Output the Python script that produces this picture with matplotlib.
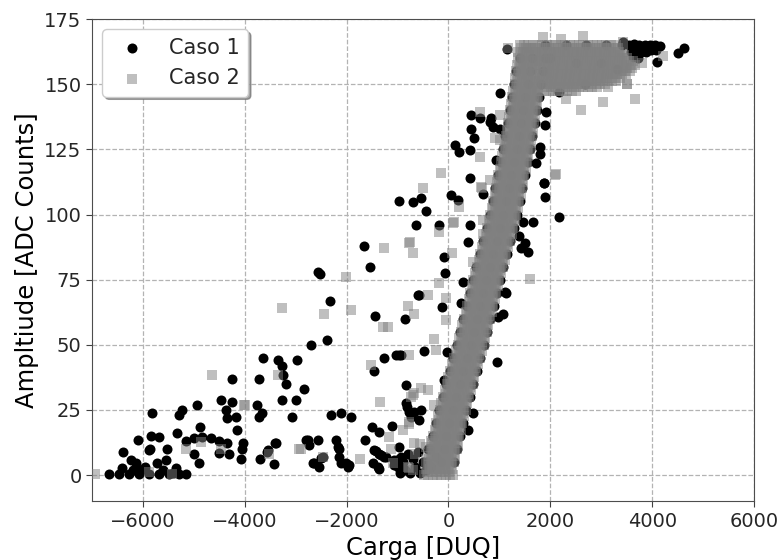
import matplotlib
matplotlib.use("Agg")
import matplotlib.pyplot as plt

plt.rcParams.update({
    "font.family": "DejaVu Sans",
    "xtick.labelsize": 14,
    "ytick.labelsize": 14,
    "axes.labelsize": 17.5,
    "text.color": "0.15",
    "xtick.color": "0.25",
    "ytick.color": "0.25",
    "xtick.labelcolor": "0.15",
    "ytick.labelcolor": "0.15",
})

X_TICKS = [-6000, -4000, -2000, 0, 2000, 4000, 6000]
Y_TICKS = [0, 25, 50, 75, 100, 125, 150, 175]

# ---- Caso 1 (black circles) ----
caso1_sparse = [
    (-1652, 88), (-1534, 80), (-2571, 78), (-2520, 77), (-2321, 67), (-2386, 52),
    (-2701, 50), (-1436, 61), (-846, 60), (-603, 69), (-1259, 45), (-1029, 46),
    (-964, 46), (-1456, 40), (-832, 34.5), (-3633, 45), (-3338, 44), (-3259, 42),
    (-2964, 44), (-4242, 37), (-3718, 37), (-3240, 38.4), (-3193, 35), (-2846, 33),
    (-3259, 29), (-2996, 29), (-3075, 22.4), (-2308, 23), (-2111, 24), (-1914, 22.4),
    (-4472, 29), (-4242, 28), (-3751, 27), (-3653, 24), (-3718, 22.4), (-4373, 25),
    (-4340, 22), (-4176, 22.4), (-4144, 17.5), (-4943, 27), (-5226, 25), (-5291, 23),
    (-5828, 24), (-4878, 18.5), (-6092, 13.4), (-5848, 15), (-5684, 14.7), (-5862, 10),
    (-5521, 10.2), (-5324, 16), (-5160, 13.2), (-4996, 14.1), (-4833, 14.7), (-4668, 14.1),
    (-4996, 8.3), (-4898, 4.5), (-4504, 13.2), (-4341, 12.2), (-4504, 8.6), (-4308, 8.3),
    (-4026, 12.2), (-4046, 10.2), (-4078, 6), (-3698, 6), (-3535, 9.6), (-3403, 12.4),
    (-3423, 4.1), (-2799, 13.4), (-2571, 13.4), (-2734, 11.5), (-2669, 4.5), (-2537, 3),
    (-2472, 7), (-2209, 13.4), (-2177, 10.9), (-2144, 7), (-2013, 4.5), (-1980, 3),
    (-1633, 13.4), (-1501, 18.5), (-1371, 16.6), (-1456, 9.6), (-1357, 8.3), (-1259, 7),
    (-1489, 4.5), (-1390, 3), (-1107, 18.8), (-964, 10.9), (-931, 7), (-1062, 5.8),
    (-997, 3), (-832, 27.5), (-767, 24.3),
    (-6668, 0.3), (-6471, 0.3), (-6406, 2.6), (-6386, 9), (-6242, 5.8), (-6143, 4.5),
    (-6045, 2), (-6275, 0.3), (-6078, 0.3), (-5881, 0.3), (-5684, 0.3), (-5488, 0.3),
    (-5291, 0.3), (-5160, 0.3), (-5718, 4.5), (-5553, 5.8), (-5356, 2.6), (-5881, 9.6),
    (-6200, 2), (-5950, 3), (-5600, 2), (-5400, 1),
    (-472, 47.7), (-813, 26.2), (-669, 24.3), (-537, 24.9), (-734, 22.4), (-570, 21.1),
    (-1423, 9.3), (-1324, 7.7), (-1226, 6.8), (-800, 8.3), (-964, 6), (-1357, 2.5),
    (-1062, 3.8), (-898, 2.6), (-3390, 12.2), (-3554, 9), (-2767, 13.4), (-2157, 10.2),
    (-2636, 4.5), (-2504, 6.4), (-1947, 3.8), (-2111, 4.5),
    (-570, 69), (-124, 64.4), (249, 66.1), (-26, 47.3), (-930, 46), (950, 43.5),
    (1068, 62), (1134, 69.7), (-79, 36.5), (478, 23.7), (380, 17.3), (970, 60.7),
    (433, 138), (610, 137), (806, 135.6), (872, 133.7), (1003, 133), (446, 133),
    (511, 129.2), (138, 126.6), (216, 124.1), (426, 124.7), (938, 121.1), (426, 114.1),
    (1003, 146.5), (2170, 147.1), (1922, 139.4), (1888, 134.3), (1790, 126), (1725, 119.6),
    (1869, 112.2), (1888, 106.8), (2170, 98.9), (1462, 97.2), (1659, 97.2), (53, 107.4),
    (183, 105.5), (-439, 101.4), (-636, 95.9), (-177, 95.9), (426, 95.9), (-964, 105),
    (-702, 104.9), (-537, 106.2), (380, 89.5), (1875, 111.9), (1383, 91.7), (1430, 87),
    (-79, 83.8), (-59, 77.4), (282, 74.2), (1101, 70.3), (675, 107.7), (1790, 123.4),
    (1495, 88.9), (1560, 85.7), (840, 136.9),
    (-950, 1), (-850, 2), (-750, 1), (-650, 3), (-550, 1), (-450, 2), (-900, 5),
    (-700, 6), (-600, 9), (-500, 5), (-400, 10), (-350, 3), (-300, 15), (-250, 7),
]

# points along the edges and middle of the dense rising band
caso1_band = [
    (-420, 5), (-155, 5), (110, 5), (-360, 10), (-95, 10), (170, 10),
    (-305, 15), (-40, 15), (225, 15), (-245, 20), (20, 20), (285, 20),
    (-185, 25), (80, 25), (345, 25), (-115, 30), (150, 30), (415, 30),
    (-45, 35), (220, 35), (485, 35), (25, 40), (290, 40), (555, 40),
    (95, 45), (360, 45), (625, 45), (170, 50), (435, 50), (700, 50),
    (235, 55), (500, 55), (765, 55), (295, 60), (560, 60), (825, 60),
    (360, 65), (625, 65), (890, 65), (420, 70), (685, 70), (950, 70),
    (480, 75), (745, 75), (1010, 75), (550, 80), (815, 80), (1080, 80),
    (615, 85), (880, 85), (1145, 85), (685, 90), (950, 90), (1215, 90),
    (750, 95), (1015, 95), (1280, 95), (815, 100), (1080, 100), (1345, 100),
    (870, 105), (1135, 105), (1400, 105), (920, 110), (1185, 110), (1450, 110),
    (970, 115), (1235, 115), (1500, 115), (1025, 120), (1290, 120), (1555, 120),
    (1075, 125), (1340, 125), (1605, 125), (1115, 130), (1380, 130), (1645, 130),
    (1160, 135), (1425, 135), (1690, 135), (1200, 140), (1465, 140), (1730, 140),
    (1245, 145), (1510, 145), (1775, 145), (1290, 150), (1555, 150), (1820, 150),
    (1335, 155), (1600, 155), (1865, 155), (1400, 160), (1640, 160), (1900, 160),
]

# saturated pulses along the top
caso1_top = [
    (3550, 165), (3650, 165.5), (3750, 165), (3850, 165), (3950, 165), (4050, 165),
    (4150, 164.5), (3580, 162.5), (3680, 162), (3780, 162.5), (3880, 162.5),
    (3980, 163), (4080, 163), (3620, 160.5), (3720, 160), (4090, 158.5),
    (4500, 162), (4620, 164), (3420, 166),
    (1140, 163.5), (1900, 165), (2300, 165), (2700, 165), (3100, 165), (3400, 165),
    (2000, 160), (2500, 158), (3000, 158), (3300, 156), (2675, 150),
]

# ---- Caso 2 (grey squares) ----
caso2_sparse = [
    (-1259, 87), (-767, 89), (-702, 85.3), (-2013, 76), (-3259, 64.2), (-2439, 62),
    (-1914, 63.3), (-800, 64.9), (-669, 62), (-1292, 56.9), (-1194, 56.9), (-780, 46),
    (-1521, 42.2), (-4649, 38.4), (-3338, 38.4), (-3993, 27), (-1344, 28), (-702, 30.7),
    (-898, 17.3), (-767, 20.5), (-1160, 14.7), (-1737, 6), (-2931, 10), (-2472, 7),
    (-3521, 8.3), (-4472, 10.2), (-4865, 12.8), (-5160, 10.2), (-5881, 1.3), (-5423, 0.3),
    (-6943, 0.3), (-1095, 4.5), (-767, 2.6), (-669, 12.2),
    (-144, 116), (2118, 115.5), (-492, 110.3), (216, 103), (118, 97.2), (-177, 93.4),
    (-753, 89.5), (643, 110.6), (675, 97.9), (1167, 163.7), (2610, 140), (3035, 143.3),
    (3659, 144.3), (2315, 144.3), (3515, 150), (1855, 168), (2217, 167.3), (2642, 168.6),
    (2085, 115.1), (85, 96.8), (72, 85.3), (478, 81.9), (1593, 75.1), (905, 129.2),
    (1003, 128.5), (610, 122.1), (662, 110.3), (806, 113.2), (675, 92.7), (610, 139.4),
    (1003, 138.1),
    (-407, 69), (-45, 67.8), (-45, 59.5), (-177, 73.6), (-275, 52.4), (-537, 33.3),
    (-407, 32.6), (-669, 31.4), (-734, 30), (-275, 26.9), (-439, 10.9), (-308, 9.6),
    (-242, 48), (-2897, 9.9), (-1127, 10.2), (-767, 19.8), (-4013, 26.9),
    (3800, 158), (4210, 161), (2675, 150), (3130, 149), (3500, 150), (3420, 166),
    (-800, 3), (-650, 8), (-550, 12), (-450, 6), (-350, 13), (-700, 2),
]

# rising band: amplitude level -> charges seen at that level
caso2_band = {
    0: [-480, -395, -310, -225, -140, -55, 30, 80],
    1.25: [-412, -327, -242, -157, -72, 13],
    2.5: [-440, -355, -270, -185, -100, -15, 70],
    3.75: [-382, -297, -212, -127, -42, 43],
    5: [-410, -325, -240, -155, -70, 15, 100],
    6.25: [-352, -267, -182, -97, -12, 73],
    7.5: [-380, -295, -210, -125, -40, 45, 130],
    8.75: [-322, -237, -152, -67, 18, 103],
    10: [-350, -265, -180, -95, -10, 75, 160],
    11.25: [-292, -207, -122, -37, 48, 133],
    12.5: [-320, -235, -150, -65, 20, 105, 190],
    13.75: [-264, -179, -94, -9, 76, 161],
    15: [-295, -210, -125, -40, 45, 130, 215],
    16.25: [-237, -152, -67, 18, 103, 188],
    17.5: [-265, -180, -95, -10, 75, 160, 245],
    18.75: [-207, -122, -37, 48, 133, 218],
    20: [-235, -150, -65, 20, 105, 190, 275],
    21.25: [-177, -92, -7, 78, 163, 248],
    22.5: [-205, -120, -35, 50, 135, 220, 305],
    23.75: [-147, -62, 23, 108, 193, 278],
    25: [-175, -90, -5, 80, 165, 250, 335],
    26.25: [-114, -29, 56, 141, 226, 311],
    27.5: [-140, -55, 30, 115, 200, 285, 370],
    28.75: [-80, 5, 90, 175, 260, 345],
    30: [-105, -20, 65, 150, 235, 320, 405],
    31.25: [-44, 41, 126, 211, 296, 381],
    32.5: [-70, 15, 100, 185, 270, 355, 440],
    33.75: [-10, 75, 160, 245, 330, 415],
    35: [-35, 50, 135, 220, 305, 390, 475],
    36.25: [26, 111, 196, 281, 366, 451],
    37.5: [0, 85, 170, 255, 340, 425, 510],
    38.75: [60, 145, 230, 315, 400, 485],
    40: [35, 120, 205, 290, 375, 460, 545],
    41.25: [96, 181, 266, 351, 436, 521],
    42.5: [70, 155, 240, 325, 410, 495, 580],
    43.75: [130, 215, 300, 385, 470, 555],
    45: [105, 190, 275, 360, 445, 530, 615],
    46.25: [166, 251, 336, 421, 506, 591],
    47.5: [140, 225, 310, 395, 480, 565, 650],
    48.75: [203, 288, 373, 458, 543, 628],
    50: [180, 265, 350, 435, 520, 605, 690],
    51.25: [238, 323, 408, 493, 578, 663],
    52.5: [210, 295, 380, 465, 550, 635, 720],
    53.75: [270, 355, 440, 525, 610, 695],
    55: [245, 330, 415, 500, 585, 670, 755],
    56.25: [303, 388, 473, 558, 643, 728],
    57.5: [275, 360, 445, 530, 615, 700, 785],
    58.75: [333, 418, 503, 588, 673, 758],
    60: [305, 390, 475, 560, 645, 730, 815],
    61.25: [363, 448, 533, 618, 703, 788],
    62.5: [335, 420, 505, 590, 675, 760, 845],
    63.75: [396, 481, 566, 651, 736, 821],
    65: [370, 455, 540, 625, 710, 795, 880],
    66.25: [428, 513, 598, 683, 768, 853],
    67.5: [400, 485, 570, 655, 740, 825, 910],
    68.75: [458, 543, 628, 713, 798, 883],
    70: [430, 515, 600, 685, 770, 855, 940],
    71.25: [488, 573, 658, 743, 828, 913],
    72.5: [460, 545, 630, 715, 800, 885, 970],
    73.75: [518, 603, 688, 773, 858, 943],
    75: [490, 575, 660, 745, 830, 915, 1000],
    76.25: [550, 635, 720, 805, 890, 975],
    77.5: [525, 610, 695, 780, 865, 950, 1035],
    78.75: [586, 671, 756, 841, 926, 1011],
    80: [560, 645, 730, 815, 900, 985, 1070],
    81.25: [620, 705, 790, 875, 960, 1045],
    82.5: [595, 680, 765, 850, 935, 1020, 1105],
    83.75: [653, 738, 823, 908, 993, 1078],
    85: [625, 710, 795, 880, 965, 1050, 1135],
    86.25: [686, 771, 856, 941, 1026, 1111],
    87.5: [660, 745, 830, 915, 1000, 1085, 1170],
    88.75: [720, 805, 890, 975, 1060, 1145],
    90: [695, 780, 865, 950, 1035, 1120, 1205],
    91.25: [756, 841, 926, 1011, 1096, 1181],
    92.5: [730, 815, 900, 985, 1070, 1155, 1240],
    93.75: [788, 873, 958, 1043, 1128, 1213],
    95: [760, 845, 930, 1015, 1100, 1185, 1270],
    96.25: [820, 905, 990, 1075, 1160, 1245],
    97.5: [795, 880, 965, 1050, 1135, 1220, 1305],
    98.75: [853, 938, 1023, 1108, 1193, 1278],
    100: [825, 910, 995, 1080, 1165, 1250, 1335],
    101.25: [880, 965, 1050, 1135, 1220, 1305],
    102.5: [850, 935, 1020, 1105, 1190, 1275, 1360],
    103.75: [908, 993, 1078, 1163, 1248, 1333],
    105: [880, 965, 1050, 1135, 1220, 1305, 1390],
    106.25: [936, 1021, 1106, 1191, 1276, 1361],
    107.5: [905, 990, 1075, 1160, 1245, 1330, 1415],
    108.75: [960, 1045, 1130, 1215, 1300, 1385],
    110: [930, 1015, 1100, 1185, 1270, 1355, 1440],
    111.25: [986, 1071, 1156, 1241, 1326, 1411],
    112.5: [955, 1040, 1125, 1210, 1295, 1380, 1465],
    113.75: [1010, 1095, 1180, 1265, 1350, 1435],
    115: [980, 1065, 1150, 1235, 1320, 1405, 1490],
    116.25: [1036, 1121, 1206, 1291, 1376, 1461],
    117.5: [1005, 1090, 1175, 1260, 1345, 1430, 1515],
    118.75: [1063, 1148, 1233, 1318, 1403, 1488],
    120: [1035, 1120, 1205, 1290, 1375, 1460, 1545],
    121.25: [1090, 1175, 1260, 1345, 1430, 1515],
    122.5: [1060, 1145, 1230, 1315, 1400, 1485, 1570],
    123.75: [1116, 1201, 1286, 1371, 1456, 1541],
    125: [1085, 1170, 1255, 1340, 1425, 1510, 1595],
    126.25: [1138, 1223, 1308, 1393, 1478, 1563],
    127.5: [1105, 1190, 1275, 1360, 1445, 1530, 1615],
    128.75: [1158, 1243, 1328, 1413, 1498, 1583],
    130: [1125, 1210, 1295, 1380, 1465, 1550, 1635],
    131.25: [1178, 1263, 1348, 1433, 1518, 1603],
    132.5: [1145, 1230, 1315, 1400, 1485, 1570, 1655],
    133.75: [1200, 1285, 1370, 1455, 1540, 1625],
    135: [1170, 1255, 1340, 1425, 1510, 1595, 1680],
    136.25: [1223, 1308, 1393, 1478, 1563, 1648],
    137.5: [1190, 1275, 1360, 1445, 1530, 1615, 1700],
    138.75: [1243, 1328, 1413, 1498, 1583, 1668],
    140: [1210, 1295, 1380, 1465, 1550, 1635, 1720],
    141.25: [1266, 1351, 1436, 1521, 1606, 1691],
    142.5: [1235, 1320, 1405, 1490, 1575, 1660, 1745],
    143.75: [1288, 1373, 1458, 1543, 1628, 1713],
    145: [1255, 1340, 1425, 1510, 1595, 1680, 1765],
    146.25: [1308, 1393, 1478, 1563, 1648, 1733],
    147.5: [1275, 1360, 1445, 1530, 1615, 1700, 1785],
    148.75: [1330, 1415, 1500, 1585, 1670, 1755],
    150: [1300, 1385, 1470, 1555, 1640, 1725, 1810],
    151.25: [1350, 1435, 1520, 1605, 1690, 1775],
    152.5: [1315, 1400, 1485, 1570, 1655, 1740],
    153.75: [1366, 1451, 1536, 1621, 1706, 1791],
    155: [1330, 1415, 1500, 1585, 1670],
    156.25: [1380, 1465, 1550, 1635, 1720],
    157.5: [1345, 1430, 1515, 1600],
    158.75: [1396, 1481, 1566, 1651],
    160: [1360, 1445, 1530, 1615],
    161.25: [1410, 1495, 1580, 1665],
    162.5: [1375, 1460, 1545],
    163.75: [1430, 1515, 1600],
    165: [1400, 1485],
}

# saturation plateau: amplitude level -> charges
caso2_plateau = {
    165: [1570, 1660, 1750, 1840, 1930, 2020, 2110, 2200, 2290, 2380, 2470, 2560,
          2650, 2740, 2830, 2920, 3010, 3100, 3190, 3280],
    163.75: [1615, 1705, 1795, 1885, 1975, 2065, 2155, 2245, 2335, 2425, 2515, 2605,
             2695, 2785, 2875, 2965, 3055, 3145, 3235, 3325],
    162.5: [1720, 1810, 1900, 1990, 2080, 2170, 2260, 2350, 2440, 2530, 2620, 2710,
            2800, 2890, 2980, 3070, 3160, 3250, 3340, 3430],
    161.25: [1745, 1835, 1925, 2015, 2105, 2195, 2285, 2375, 2465, 2555, 2645, 2735,
             2825, 2915, 3005, 3095, 3185, 3275, 3365, 3455],
    160: [1700, 1790, 1880, 1970, 2060, 2150, 2240, 2330, 2420, 2510, 2600, 2690,
          2780, 2870, 2960, 3050, 3140, 3230, 3320, 3410, 3500],
    158.75: [1735, 1825, 1915, 2005, 2095, 2185, 2275, 2365, 2455, 2545, 2635, 2725,
             2815, 2905, 2995, 3085, 3175, 3265, 3355, 3445, 3535, 3625],
    157.5: [1690, 1780, 1870, 1960, 2050, 2140, 2230, 2320, 2410, 2500, 2590, 2680,
            2770, 2860, 2950, 3040, 3130, 3220, 3310, 3400, 3490, 3580, 3670],
    156.25: [1800, 1890, 1980, 2070, 2160, 2250, 2340, 2430, 2520, 2610, 2700, 2790,
             2880, 2970, 3060, 3150, 3240, 3330, 3420, 3510, 3600],
    155: [1850, 1940, 2030, 2120, 2210, 2300, 2390, 2480, 2570, 2660, 2750, 2840,
          2930, 3020, 3110, 3200, 3290, 3380, 3470, 3560],
    153.75: [1875, 1965, 2055, 2145, 2235, 2325, 2415, 2505, 2595, 2685, 2775, 2865,
             2955, 3045, 3135, 3225, 3315, 3405, 3495],
    152.5: [1830, 1920, 2010, 2100, 2190, 2280, 2370, 2460, 2550, 2640, 2730, 2820,
            2910, 3000, 3090, 3180, 3270, 3360],
    151.25: [1855, 1945, 2035, 2125, 2215, 2305, 2395, 2485, 2575, 2665, 2755, 2845,
             2935, 3025, 3115, 3205, 3295],
    150: [1900, 1990, 2080, 2170, 2260, 2350, 2440, 2530, 2620, 2710, 2800, 2890,
          2980, 3070],
    148.75: [1925, 2015, 2105, 2195, 2285, 2375, 2465, 2555, 2645, 2735, 2825, 2915],
    147.5: [1880, 1970, 2060, 2150, 2240, 2330, 2420, 2510],
}


def unpack(pairs):
    return [p[0] for p in pairs], [p[1] for p in pairs]


def unpack_rows(rows):
    xs, ys = [], []
    for level, charges in rows.items():
        xs += charges
        ys += [level] * len(charges)
    return xs, ys


c1_x, c1_y = unpack(caso1_sparse + caso1_band + caso1_top)
c2_x, c2_y = unpack(caso2_sparse)
bx, by = unpack_rows(caso2_band)
px, py = unpack_rows(caso2_plateau)
c2_x += bx + px
c2_y += by + py

fig = plt.figure(figsize=(7.79, 5.6), dpi=100)
ax = fig.add_axes([0.118, 0.105, 0.850, 0.861])

ax.scatter(c1_x, c1_y, s=52, marker="o", color="black", linewidths=0,
           label="Caso 1", zorder=2)
ax.scatter(c2_x, c2_y, s=44, marker="s", color="gray", alpha=0.5,
           linewidths=0, label="Caso 2", zorder=3)

ax.set_xlim(-7000, 6000)
ax.set_ylim(-10, 175)
ax.set_xticks(X_TICKS)
ax.set_yticks(Y_TICKS)
ax.set_xlabel("Carga [DUQ]")
ax.set_ylabel("Ampltiude [ADC Counts]")
ax.grid(True, linestyle="--", color="0.7", linewidth=0.9)
ax.set_axisbelow(True)
for sp in ax.spines.values():
    sp.set_color("0.3")
ax.tick_params(length=4)

ax.legend(loc="upper left", fontsize=15, shadow=True, fancybox=True,
          framealpha=1)

fig.savefig("out.png", dpi=100)
plt.close(fig)
